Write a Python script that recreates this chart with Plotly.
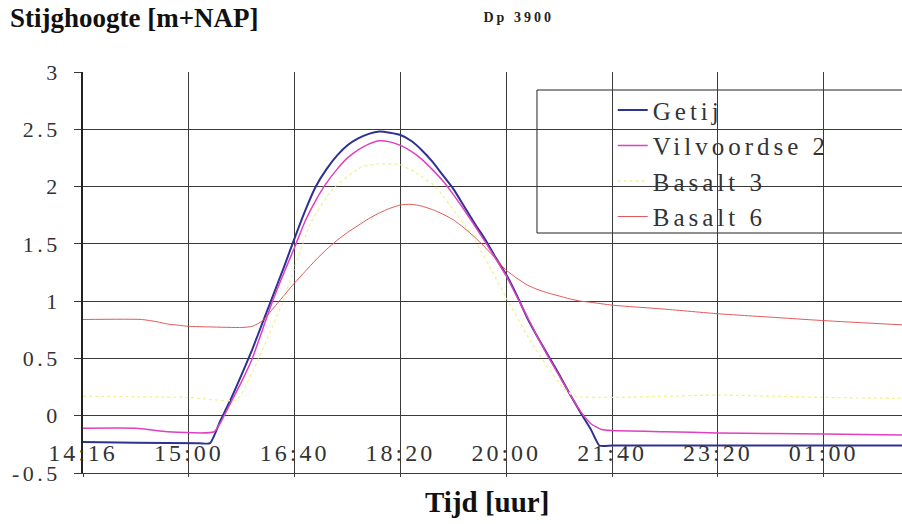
import plotly.graph_objects as go

# ---- data (x = sample index, 10 samples per labelled tick interval) ----
tick_pos = [0, 10, 20, 30, 40, 50, 60, 70]
tick_labels = ["14:16", "15:00", "16:40", "18:20", "20:00", "21:40", "23:20", "01:00"]

getij_t = [0, 5, 11, 12, 13, 14, 15, 16, 17, 18, 19, 20, 21, 22, 23, 24, 25, 26, 27, 28,
           29, 30, 31, 32, 33, 34, 35, 36, 37, 38, 39, 40, 41, 42, 43, 44, 45, 46, 47,
           48, 48.8, 50, 55, 60, 65, 70, 75, 78]
getij_h = [-0.23, -0.235, -0.24, -0.24, -0.04, 0.15, 0.36, 0.58, 0.82, 1.06, 1.30, 1.55,
           1.79, 2.00, 2.15, 2.27, 2.36, 2.42, 2.46, 2.48, 2.47, 2.45, 2.40, 2.32, 2.22,
           2.10, 1.98, 1.83, 1.68, 1.54, 1.38, 1.23, 1.05, 0.85, 0.68, 0.52, 0.36, 0.19,
           0.03, -0.12, -0.26, -0.26, -0.26, -0.26, -0.26, -0.26, -0.26, -0.26]

vil_t = [0, 5, 8, 12.4, 13, 14, 15, 16, 17, 18, 19, 20, 21, 22, 23, 24, 25, 26, 27, 28,
         29, 30, 31, 32, 33, 34, 35, 36, 37, 38, 39, 40, 41, 42, 43, 44, 45, 46, 47, 48,
         49, 50, 55, 60, 65, 70, 78]
vil_h = [-0.11, -0.11, -0.14, -0.14, -0.06, 0.12, 0.30, 0.50, 0.76, 1.02, 1.25, 1.47,
         1.70, 1.88, 2.03, 2.15, 2.25, 2.32, 2.37, 2.40, 2.39, 2.36, 2.31, 2.24, 2.15,
         2.05, 1.93, 1.80, 1.66, 1.52, 1.37, 1.22, 1.04, 0.86, 0.68, 0.51, 0.35, 0.19,
         0.04, -0.07, -0.12, -0.13, -0.14, -0.15, -0.155, -0.16, -0.17]

b3_t = [0, 10, 14.5, 16.5, 18.9, 20.2, 21.5, 23.6, 26.3, 28, 30, 31.5, 33.4, 36, 37.1,
        40.3, 42.5, 45.3, 46.5, 50, 60, 70, 78]
b3_h = [0.17, 0.16, 0.14, 0.48, 1.00, 1.35, 1.68, 1.98, 2.17, 2.20, 2.19, 2.12, 1.99,
        1.67, 1.52, 0.98, 0.62, 0.25, 0.17, 0.16, 0.18, 0.16, 0.15]

b6_t = [0, 5.5, 7, 8, 9, 10, 12, 15, 16, 17, 18, 19, 20, 21, 22, 23, 24, 25, 26, 27, 28,
        29, 30, 31, 32, 33, 34, 35, 36, 37, 38, 39, 40, 41, 42, 43, 44, 45, 46, 47, 48,
        50, 55, 60, 65, 70, 78]
b6_h = [0.84, 0.84, 0.82, 0.80, 0.79, 0.78, 0.775, 0.77, 0.78, 0.83, 0.94, 1.05, 1.16,
        1.26, 1.36, 1.45, 1.53, 1.60, 1.66, 1.72, 1.77, 1.81, 1.84, 1.845, 1.83, 1.80,
        1.76, 1.71, 1.64, 1.56, 1.47, 1.37, 1.27, 1.20, 1.14, 1.10, 1.07, 1.045, 1.02,
        1.00, 0.99, 0.965, 0.93, 0.89, 0.86, 0.83, 0.79]

SERIF = "Liberation Serif"

fig = go.Figure()
fig.add_trace(go.Scatter(x=getij_t, y=getij_h, name="Getij", mode="lines",
                         line=dict(color="#2e3192", width=2, shape="spline", smoothing=0.5)))
fig.add_trace(go.Scatter(x=vil_t, y=vil_h, name="Vilvoordse 2", mode="lines",
                         line=dict(color="#e040c0", width=1.5, shape="spline", smoothing=0.5)))
fig.add_trace(go.Scatter(x=b3_t, y=b3_h, name="Basalt 3", mode="lines",
                         line=dict(color="#f2f290", width=1.3, dash="dot",
                                   shape="spline", smoothing=0.5)))
fig.add_trace(go.Scatter(x=b6_t, y=b6_h, name="Basalt 6", mode="lines",
                         line=dict(color="#e05a5a", width=1, shape="spline", smoothing=0.5)))

fig.update_layout(
    width=902, height=524,
    margin=dict(l=83, r=0, t=72, b=51),
    paper_bgcolor="white", plot_bgcolor="white",
    font=dict(family=SERIF, color="#333333"),
    showlegend=True,
    legend=dict(x=0.554, y=0.962, xanchor="left", yanchor="top",
                bgcolor="rgba(0,0,0,0)", borderwidth=0,
                font=dict(family=SERIF, size=25, color="#333333"),
                indentation=76, itemwidth=30),
)
# legend frame (extends past the right edge like in the reference)
fig.add_shape(type="rect", xref="paper", yref="paper",
              x0=0.5543, x1=1.02, y0=0.5985, y1=0.9551,
              line=dict(color="#222222", width=1), fillcolor="white", layer="between")

fig.update_xaxes(
    range=[0, 77.4], tickmode="array", tickvals=tick_pos, ticktext=tick_labels,
    showgrid=True, gridcolor="#3a3a3a", gridwidth=1, zeroline=False,
    showline=True, linecolor="#3a3a3a", linewidth=1,
    ticks="outside", ticklen=3, tickcolor="#3a3a3a",
    tickfont=dict(family=SERIF, size=24, color="#333333"),
    ticklabelstandoff=-45,
)
fig.update_yaxes(
    range=[-0.5, 3], tickmode="array", tickvals=[-0.5, 0, 0.5, 1, 1.5, 2, 2.5, 3],
    ticktext=["-0.5", "0", "0.5", "1", "1.5", "2", "2.5", "3"],
    showgrid=True, gridcolor="#3a3a3a", gridwidth=1,
    zeroline=True, zerolinecolor="#3a3a3a", zerolinewidth=1,
    showline=True, linecolor="#222222", linewidth=1.5,
    ticks="outside", ticklen=7, tickcolor="#3a3a3a",
    tickfont=dict(family=SERIF, size=22, color="#333333"),
    ticklabelstandoff=9,
)

fig.add_annotation(text="Stijghoogte [m+NAP]", xref="paper", yref="paper",
                   x=-0.0916, y=1.134, xanchor="left", yanchor="middle", showarrow=False,
                   font=dict(family=SERIF, size=27, color="#111111", weight="bold"))
fig.add_annotation(text="Dp 3900", xref="paper", yref="paper",
                   x=0.4994, y=1.1347, xanchor="left", yanchor="middle", showarrow=False,
                   font=dict(family=SERIF, size=14, color="#222222", weight="bold"))
fig.add_annotation(text="Tijd [uur]", xref="paper", yref="paper",
                   x=0.4933, y=-0.0723, xanchor="center", yanchor="middle", showarrow=False,
                   font=dict(family=SERIF, size=29, color="#111111", weight="bold"))

post = """
document.documentElement.style.margin = '0px';
document.body.style.margin = '0px';
document.body.style.padding = '0px';
var gd = document.getElementById('{plot_id}');
function sp(sel, v){ gd.querySelectorAll(sel).forEach(function(e){ e.style.letterSpacing = v; }); }
sp('.xtick text', '3px');
sp('.ytick text', '3.5px');
sp('.legendtext', '4px');
gd.querySelectorAll('.legend .scrollbox').forEach(function(e){ e.removeAttribute('clip-path'); });
gd.querySelectorAll('.annotation-text').forEach(function(e){
  if (e.textContent === 'Dp 3900') { e.style.letterSpacing = '3px'; }
});
"""

fig.write_html("out.html", post_script=post, config={"displayModeBar": False})
